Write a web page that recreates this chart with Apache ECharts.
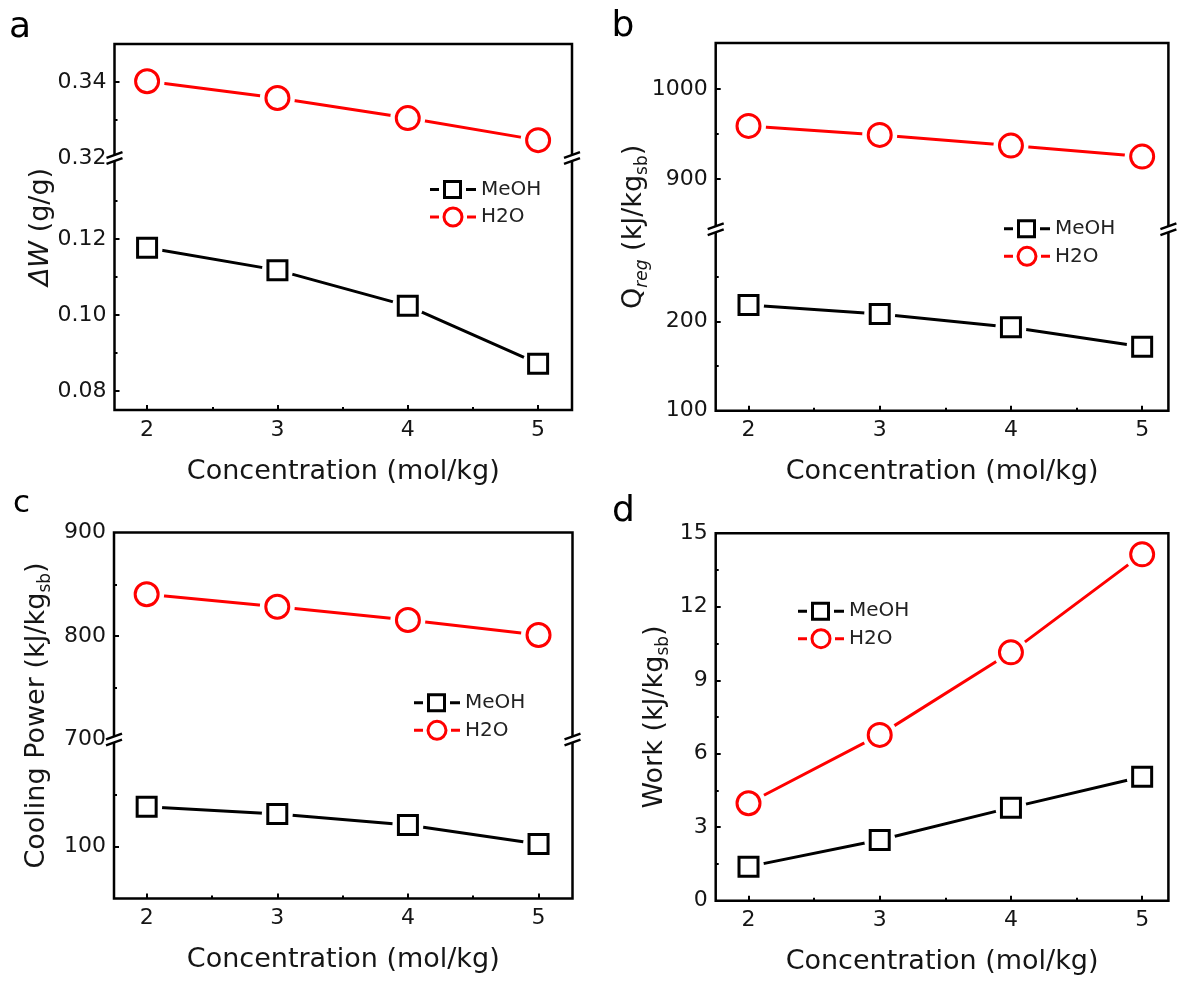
<!DOCTYPE html>
<html>
<head>
<meta charset="utf-8">
<script src="https://cdn.jsdelivr.net/npm/echarts@6/dist/echarts.min.js"></script>
<style>html,body{margin:0;padding:0;background:#fff}#c{width:1179px;height:981px}</style>
</head>
<body>
<div id="c"></div>
<script>
// ---------------- data ----------------
const concentration = [2, 3, 4, 5];
const xTicks = [2, 3, 4, 5];
const xMinorTicks = [2.5, 3.5, 4.5];
const xTitle = 'Concentration (mol/kg)';

// (a) ΔW (g/g)
const dW_MeOH = [0.1177, 0.1118, 0.1024, 0.0872];
const dW_H2O  = [0.3402, 0.3358, 0.3305, 0.3247];
const dW_upperLabels = [0.32, 0.34];
const dW_upperMinor  = [0.33];
const dW_lowerLabels = [0.08, 0.10, 0.12];
const dW_lowerMinor  = [0.09, 0.11, 0.13];

// (b) Q_reg (kJ/kg_sb)
const Qreg_MeOH = [218.8, 208.7, 193.7, 171.9];
const Qreg_H2O  = [958.9, 948.9, 937.0, 924.8];
const Qreg_upperLabels = [900, 1000];
const Qreg_upperMinor  = [950];
const Qreg_lowerLabels = [100, 200];
const Qreg_lowerMinor  = [150, 250];

// (c) Cooling Power (kJ/kg_sb)
const cool_MeOH = [138.7, 131.6, 121.0, 102.6];
const cool_H2O  = [840.3, 828.3, 815.5, 801.0];
const cool_upperLabels = [700, 800, 900];
const cool_upperMinor  = [750, 850];
const cool_lowerLabels = [100];
const cool_lowerMinor  = [150];

// (d) Work (kJ/kg_sb)
const work_MeOH = [1.39, 2.48, 3.80, 5.06];
const work_H2O  = [3.98, 6.77, 10.14, 14.14];
const work_labels = [0, 3, 6, 9, 12, 15];
const work_minor  = [1.5, 4.5, 7.5, 10.5, 13.5];

// ---------------- layout / style ----------------
const FONT = 'DejaVu Sans';
const TXT = '#151515';
const COLORS = { MeOH: '#000000', H2O: '#ff0000' };
const SYMBOL = { MeOH: 'rect', H2O: 'circle' };
const SYMSIZE = { MeOH: 19, H2O: 23 };

const panels = [
  { letter: 'a', lx: 9, ly: 28, lsize: 36,
    left: 114.5, right: 572, top: 44, bottom: 410, breakY: 158, xMax: 5.26,
    fmt: v => v.toFixed(2),
    yName: '{i|ΔW}{m| (g/g)}', nameGap: 57,
    legend: { left: 430, top: 179.5 },
    segments: [
      { range: [0.32, 0.35], labels: dW_upperLabels, minor: dW_upperMinor, series: [['H2O', dW_H2O]] },
      { range: [0.075, 0.1413], labels: dW_lowerLabels, minor: dW_lowerMinor, series: [['MeOH', dW_MeOH]] }
    ] },
  { letter: 'b', lx: 611.5, ly: 26.5, lsize: 36,
    left: 715.7, right: 1168.4, top: 43, bottom: 410.7, breakY: 229.3, xMax: 5.2,
    fmt: v => String(v),
    yName: '{m|Q}{isub|reg}{m| (kJ/kg}{sub|sb}{m|)}', nameGap: 65,
    legend: { left: 1004, top: 218.8 },
    segments: [
      { range: [844, 1051], labels: Qreg_upperLabels, minor: Qreg_upperMinor, series: [['H2O', Qreg_H2O]] },
      { range: [100, 303.8], labels: Qreg_lowerLabels, minor: Qreg_lowerMinor, series: [['MeOH', Qreg_MeOH]] }
    ] },
  { letter: 'c', lx: 13, ly: 504, lsize: 31,
    left: 114, right: 572.5, top: 532.5, bottom: 898.5, breakY: 739.5, xMax: 5.26,
    fmt: v => String(v),
    yName: '{m|Cooling Power (kJ/kg}{sub|sb}{m|)}', nameGap: 60,
    legend: { left: 414, top: 692.8 },
    segments: [
      { range: [700, 900], labels: cool_upperLabels, minor: cool_upperMinor, series: [['H2O', cool_H2O]] },
      { range: [50, 203.7], labels: cool_lowerLabels, minor: cool_lowerMinor, series: [['MeOH', cool_MeOH]] }
    ] },
  { letter: 'd', lx: 612, ly: 512, lsize: 36,
    left: 715.7, right: 1168.4, top: 533.3, bottom: 900.7, breakY: null, xMax: 5.2,
    fmt: v => String(v),
    yName: '{m|Work (kJ/kg}{sub|sb}{m|)}', nameGap: 43.5,
    legend: { left: 798, top: 601.2 },
    segments: [
      { range: [0, 15], labels: work_labels, minor: work_minor, series: [['MeOH', work_MeOH], ['H2O', work_H2O]] }
    ] }
];

const ICON_SQUARE = 'path://M0,8L9,8L9,11L0,11Z M13,0L32,0L32,19L13,19Z M16,3L16,16L29,16L29,3Z M36,8L46,8L46,11L36,11Z';
const ICON_CIRCLE = 'path://M0,9L9,9L9,12L0,12Z M12.5,10.5A10.5,10.5,0,1,1,33.5,10.5A10.5,10.5,0,1,1,12.5,10.5Z M15.5,10.5A7.5,7.5,0,1,0,30.5,10.5A7.5,7.5,0,1,0,15.5,10.5Z M37,9L46,9L46,12L37,12Z';

// ---------------- build option ----------------
const grids = [], xAxis = [], yAxis = [], series = [], legends = [], graphics = [];
const tickLine = { color: '#000', width: 2 };

function breakMark(x, y) {
  return [
    { type: 'rect', shape: { x: x - 3, y: y - 2.8, width: 6, height: 5.6 }, style: { fill: '#fff' }, z: 100 },
    { type: 'line', shape: { x1: x - 8, y1: y - 0.1, x2: x + 8, y2: y - 5.9 }, style: { stroke: '#000', lineWidth: 2.4 }, z: 101 },
    { type: 'line', shape: { x1: x - 8, y1: y + 5.9, x2: x + 8, y2: y + 0.1 }, style: { stroke: '#000', lineWidth: 2.4 }, z: 101 }
  ];
}

const richName = {
  m:    { fontSize: 27, fontFamily: FONT, color: TXT, lineHeight: 34 },
  i:    { fontSize: 27, fontFamily: FONT, color: TXT, lineHeight: 34, fontStyle: 'italic' },
  sub:  { fontSize: 17, fontFamily: FONT, color: TXT, lineHeight: 14, verticalAlign: 'bottom' },
  isub: { fontSize: 17, fontFamily: FONT, color: TXT, lineHeight: 14, verticalAlign: 'bottom', fontStyle: 'italic' }
};

panels.forEach(p => {
  const width = p.right - p.left;
  // frame grid (box, x axis, y title)
  const fg = grids.length;
  grids.push({ left: p.left, top: p.top, width: width, height: p.bottom - p.top, show: true,
    borderColor: '#000', borderWidth: 2.5, backgroundColor: 'transparent', outerBoundsMode: 'none' });
  xAxis.push({ gridIndex: fg, type: 'value', min: 1.75, max: p.xMax, position: 'bottom',
    axisLine: { show: false }, splitLine: { show: false },
    axisTick: { show: true, inside: true, length: 5, lineStyle: tickLine, customValues: xTicks },
    axisLabel: { show: true, customValues: xTicks, margin: 9, color: TXT, fontSize: 22, fontFamily: FONT },
    name: xTitle, nameLocation: 'middle', nameGap: 48,
    nameTextStyle: { fontSize: 27, fontFamily: FONT, color: TXT } });
  xAxis.push({ gridIndex: fg, type: 'value', min: 1.75, max: p.xMax, position: 'bottom',
    axisLine: { show: false }, splitLine: { show: false }, axisLabel: { show: false },
    axisTick: { show: true, inside: true, length: 3, lineStyle: tickLine, customValues: xMinorTicks } });
  yAxis.push({ gridIndex: fg, type: 'value', min: 0, max: 1, position: 'left',
    axisLine: { show: false }, axisTick: { show: false }, axisLabel: { show: false }, splitLine: { show: false },
    name: p.yName, nameLocation: 'middle', nameGap: p.nameGap, nameRotate: 90,
    nameTextStyle: { fontSize: 27, fontFamily: FONT, color: TXT, rich: richName } });

  // segments
  const n = p.segments.length;
  p.segments.forEach((s, k) => {
    const segTop = (n === 1 || k === 0) ? p.top : p.breakY;
    const segBottom = (n === 1 || k === n - 1) ? p.bottom : p.breakY;
    const g = grids.length;
    grids.push({ left: p.left, top: segTop, width: width, height: segBottom - segTop, show: false, outerBoundsMode: 'none' });
    const xi = xAxis.length;
    xAxis.push({ gridIndex: g, type: 'value', min: 1.75, max: p.xMax, show: false });
    const yi = yAxis.length;
    const majorTicks = s.labels.filter(v => v > s.range[0] + 1e-9 && v < s.range[1] - 1e-9);
    yAxis.push({ gridIndex: g, type: 'value', min: s.range[0], max: s.range[1], position: 'left',
      axisLine: { show: false }, splitLine: { show: false },
      axisTick: { show: true, inside: true, length: 5, lineStyle: tickLine, customValues: majorTicks },
      axisLabel: { show: true, customValues: s.labels, formatter: p.fmt, margin: 8,
        color: TXT, fontSize: 22, fontFamily: FONT } });
    yAxis.push({ gridIndex: g, type: 'value', min: s.range[0], max: s.range[1], position: 'left',
      axisLine: { show: false }, splitLine: { show: false }, axisLabel: { show: false },
      axisTick: { show: true, inside: true, length: 3, lineStyle: tickLine, customValues: s.minor } });

    s.series.forEach(([name, values]) => {
      const data = concentration.map((c, i) => [c, values[i]]);
      // connecting line with white halos (gap around markers)
      series.push({ type: 'line', name: name + ' line', xAxisIndex: xi, yAxisIndex: yi, data: data,
        symbol: 'circle', symbolSize: SYMSIZE[name] + 12, showAllSymbol: true,
        itemStyle: { color: '#fff', borderWidth: 0 },
        lineStyle: { color: COLORS[name], width: 3 }, z: 2, silent: true, clip: false });
      // hollow markers
      series.push({ type: 'scatter', name: name, xAxisIndex: xi, yAxisIndex: yi, data: data,
        symbol: SYMBOL[name], symbolSize: SYMSIZE[name],
        itemStyle: { color: '#fff', borderColor: COLORS[name], borderWidth: 3, opacity: 1 }, z: 3, silent: true });
    });
  });

  if (p.breakY !== null) {
    graphics.push(...breakMark(p.left, p.breakY), ...breakMark(p.right, p.breakY));
  }

  legends.push({ left: p.legend.left, top: p.legend.top, orient: 'vertical', padding: 0,
    itemWidth: 46, itemHeight: 21, itemGap: 7, symbolKeepAspect: true, selectedMode: false,
    textStyle: { fontSize: 20, fontFamily: FONT, color: '#222' },
    data: [
      { name: 'MeOH', icon: ICON_SQUARE, itemStyle: { color: COLORS.MeOH, borderWidth: 0, borderColor: 'transparent' } },
      { name: 'H2O', icon: ICON_CIRCLE, itemStyle: { color: COLORS.H2O, borderWidth: 0, borderColor: 'transparent' } }
    ] });

  graphics.push({ type: 'text', x: p.lx, y: p.ly, z: 100,
    style: { text: p.letter, fontSize: p.lsize, fontFamily: FONT, fill: '#000', verticalAlign: 'middle', align: 'left' } });
});

const chart = echarts.init(document.getElementById('c'), null, { renderer: 'canvas' });
chart.setOption({
  backgroundColor: '#fff',
  animation: false,
  textStyle: { fontFamily: FONT },
  grid: grids,
  xAxis: xAxis,
  yAxis: yAxis,
  legend: legends,
  series: series,
  graphic: graphics
});
</script>
</body>
</html>
